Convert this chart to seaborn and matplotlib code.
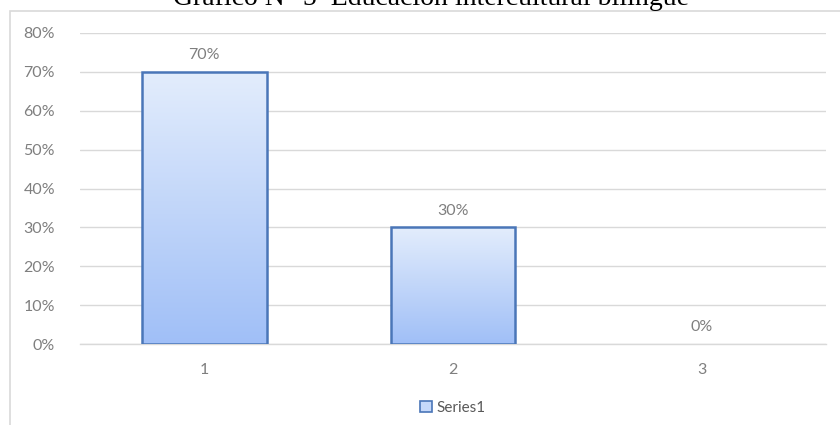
import numpy as np
import pandas as pd
import matplotlib
matplotlib.use("Agg")
import matplotlib.pyplot as plt
from matplotlib.patches import Rectangle
from matplotlib.colors import LinearSegmentedColormap
from matplotlib.ticker import PercentFormatter
import seaborn as sns

categories = ["1", "2", "3"]
values = [0.70, 0.30, 0.00]
value_labels = ["70%", "30%", "0%"]
series_name = "Series1"
title = "Gráfico N° 5  Educación intercultural bilingüe"
y_ticks = [0.0, 0.1, 0.2, 0.3, 0.4, 0.5, 0.6, 0.7, 0.8]

sns.set_theme(style="white")
plt.rcParams["font.family"] = ["Lato", "DejaVu Sans"]

df = pd.DataFrame({"cat": categories, "val": values})

fig = plt.figure(figsize=(8.4, 4.25), dpi=100)
ax = fig.add_axes([80 / 840, 81 / 425, 746 / 840, 311 / 425])

grid_c = "#d9d9d9"
text_c = "#7f7f7f"
edge_c = "#4a76b8"

sns.barplot(data=df, x="cat", y="val", ax=ax, width=0.5,
            color="#bcd3fa", edgecolor=edge_c, linewidth=1.8, zorder=3)

# vertical gradient fill inside each bar
grad = LinearSegmentedColormap.from_list("g", ["#a0bff7", "#e3edfc"])
for p in ax.patches:
    x0, y0 = p.get_x(), p.get_y()
    w, h = p.get_width(), p.get_height()
    if h <= 0:
        p.set_visible(False)
        continue
    im = ax.imshow(np.linspace(0, 1, 256).reshape(-1, 1), cmap=grad,
                   origin="lower", aspect="auto",
                   extent=[x0, x0 + w, y0, y0 + h], zorder=3.5)
    im.set_clip_path(p)
    p.set_facecolor("none")
    p.set_zorder(4)

ax.set_xlim(-0.5, 2.5)
ax.set_ylim(0, 0.8)
ax.set_yticks(y_ticks)
ax.yaxis.set_major_formatter(PercentFormatter(1.0, decimals=0))
ax.grid(axis="y", color=grid_c, linewidth=1.0, zorder=0)
for s in ["top", "right", "left"]:
    ax.spines[s].set_visible(False)
ax.spines["bottom"].set_color(grid_c)
ax.spines["bottom"].set_linewidth(1.0)
ax.set_xlabel("")
ax.set_ylabel("")
ax.tick_params(axis="both", length=0, labelsize=11.5, colors=text_c)
ax.tick_params(axis="y", pad=18)
ax.tick_params(axis="x", pad=14)

for i, (v, lab) in enumerate(zip(values, value_labels)):
    ax.annotate(lab, (i, v), xytext=(0, 7), textcoords="offset points",
                ha="center", va="bottom", fontsize=11.5, color=text_c)

# legend below the plot
handle = Rectangle((0, 0), 1, 1, facecolor="#c6d9fa", edgecolor=edge_c, linewidth=1.2)
fig.legend([handle], [series_name], loc="center", bbox_to_anchor=(453 / 840, 1 - 408 / 425),
           frameon=False, fontsize=11, labelcolor="#595959", handlelength=0.75,
           handleheight=0.75, handletextpad=0.3)

# chart frame
fig.add_artist(Rectangle((10 / 840, -0.1), 1.0, 1 - 11 / 425 + 0.1,
                         transform=fig.transFigure, fill=False,
                         edgecolor=grid_c, linewidth=1.2))

fig.text(431 / 840, 1 - 5 / 425, title, ha="center", va="baseline",
         fontsize=20, family=["Liberation Serif", "DejaVu Serif"], color="black")

fig.savefig("out.png", dpi=100, facecolor="white")
